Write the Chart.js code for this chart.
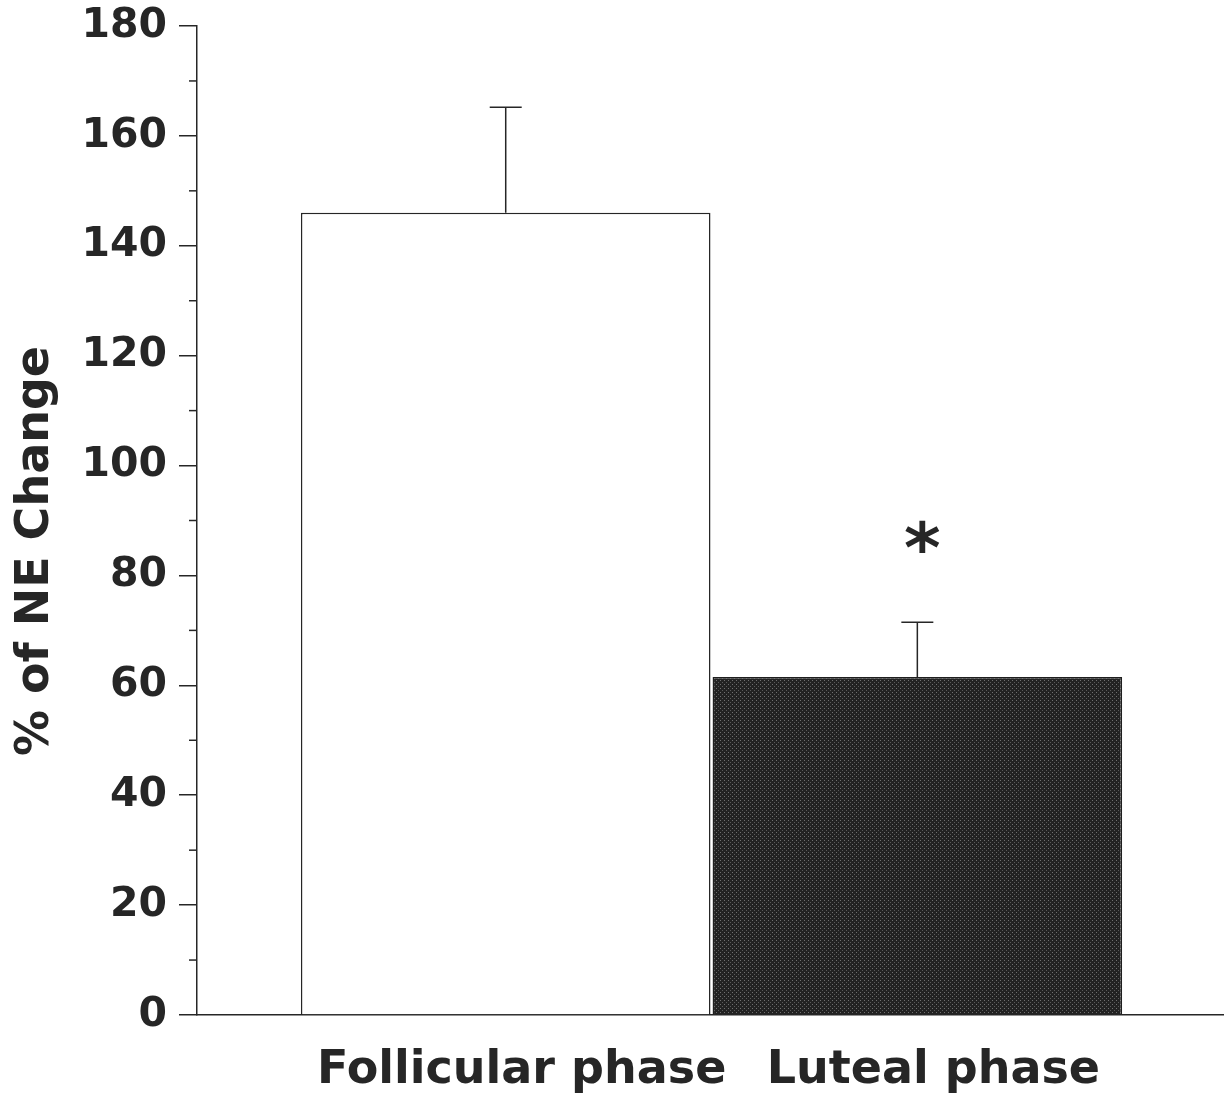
<!DOCTYPE html>
<html>
<head>
<meta charset="utf-8">
<title>% of NE Change by menstrual phase</title>
<script src="https://cdn.jsdelivr.net/npm/chart.js@4.4.0/dist/chart.umd.min.js"></script>
<style>
  html, body { margin: 0; padding: 0; background: #fff; }
  #wrap { width: 1224px; height: 1099px; }
</style>
</head>
<body>
<div id="wrap"><canvas id="chart" width="1224" height="1099"></canvas></div>
<script>
// data
const categories = ['Follicular phase', 'Luteal phase'];
const meanValues = [146, 61.5];
const errorValues = [19.2, 10];
const yTickValues = [0, 20, 40, 60, 80, 100, 120, 140, 160, 180];
const minorTickValues = [10, 30, 50, 70, 90, 110, 130, 150, 170];
const markerText = ['', '*'];
const markerValues = [null, 87];
const yTitle = '% of NE Change';

const INK = '#262626';
const FONT = '"DejaVu Sans", "Liberation Sans", Arial, sans-serif';

// dotted dark fill, like the halftone in the scan
function makeDarkPattern() {
  const c = document.createElement('canvas');
  c.width = 4; c.height = 4;
  const g = c.getContext('2d');
  g.fillStyle = '#222222';
  g.fillRect(0, 0, 4, 4);
  g.fillStyle = '#707070';
  g.fillRect(0, 0, 1, 1);
  g.fillStyle = '#5a5a5a';
  g.fillRect(2, 2, 1, 1);
  return g.createPattern(c, 'repeat');
}

const extrasPlugin = {
  id: 'extras',
  afterDatasetsDraw(chart) {
    const { ctx, scales: { x, y } } = chart;
    ctx.save();
    ctx.strokeStyle = INK;
    ctx.lineWidth = 1.5;

    // error bars (upper only)
    meanValues.forEach((v, i) => {
      const px = x.getPixelForValue(i);
      const yBase = y.getPixelForValue(v);
      const yTop = y.getPixelForValue(v + errorValues[i]);
      ctx.beginPath();
      ctx.moveTo(px, yBase);
      ctx.lineTo(px, yTop);
      ctx.moveTo(px - 16, yTop);
      ctx.lineTo(px + 16, yTop);
      ctx.stroke();
    });

    // minor ticks on the y axis
    const ax = chart.chartArea.left;
    minorTickValues.forEach(v => {
      const py = y.getPixelForValue(v);
      ctx.beginPath();
      ctx.moveTo(ax - 8, py);
      ctx.lineTo(ax, py);
      ctx.stroke();
    });

    // significance marker
    ctx.fillStyle = INK;
    ctx.font = `bold 70px ${FONT}`;
    ctx.textAlign = 'center';
    ctx.textBaseline = 'alphabetic';
    markerText.forEach((t, i) => {
      if (!t) return;
      const m = ctx.measureText(t);
      const cy = y.getPixelForValue(markerValues[i]);
      const off = (m.actualBoundingBoxAscent - m.actualBoundingBoxDescent) / 2;
      ctx.fillText(t, x.getPixelForValue(i) + 5, cy + off);
    });

    // y axis title
    ctx.font = `bold 46px ${FONT}`;
    ctx.textBaseline = 'middle';
    ctx.translate(36, 551);
    ctx.rotate(-Math.PI / 2);
    ctx.fillText(yTitle, 0, 0);
    ctx.restore();
  }
};

const ctx = document.getElementById('chart').getContext('2d');

new Chart(ctx, {
  type: 'bar',
  data: {
    datasets: [{
      data: categories.map((c, i) => ({ x: i, y: meanValues[i] })),
      backgroundColor: ['#ffffff', makeDarkPattern()],
      borderColor: [INK, '#1e1e1e'],
      borderWidth: 1.5,
      categoryPercentage: 1,
      barPercentage: 0.995
    }]
  },
  options: {
    responsive: false,
    animation: false,
    layout: { padding: { top: 26, right: 0, left: 0, bottom: 0 } },
    plugins: {
      legend: { display: false },
      tooltip: { enabled: false }
    },
    scales: {
      x: {
        type: 'linear',
        offset: false,
        bounds: 'data',
        min: -0.75,
        max: 1.745,
        afterBuildTicks: (scale) => {
          scale.ticks = categories.map((c, i) => ({ value: i }));
        },
        afterFit: (scale) => { scale.height = 84; },
        grid: { display: false, drawTicks: false, offset: false },
        border: { display: true, color: INK, width: 1.5 },
        ticks: {
          autoSkip: false,
          maxRotation: 0,
          padding: 28,
          labelOffset: 16,
          color: INK,
          font: { family: FONT, size: 46, weight: 'bold' },
          callback: (value, index) => categories[index]
        }
      },
      y: {
        min: 0,
        max: 180,
        afterBuildTicks: (scale) => {
          scale.ticks = yTickValues.map(v => ({ value: v }));
        },
        afterFit: (scale) => {
          scale.width = 197;
          scale.paddingTop = 0;
          scale.paddingBottom = 0;
        },
        grid: {
          drawOnChartArea: false,
          tickLength: 18,
          color: INK,
          lineWidth: 1.5
        },
        border: { display: true, color: INK, width: 1.5 },
        ticks: {
          padding: 12,
          color: INK,
          font: { family: FONT, size: 41, weight: 'bold' }
        }
      }
    }
  },
  plugins: [extrasPlugin]
});
</script>
</body>
</html>
